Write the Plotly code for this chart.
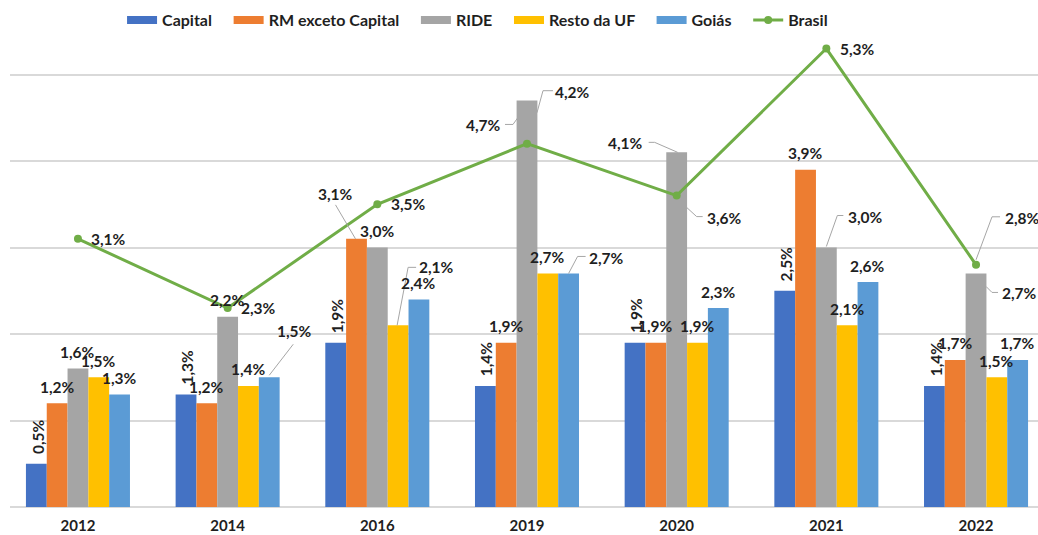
import plotly.graph_objects as go

# ---------------- data ----------------
years = ['2012', '2014', '2016', '2019', '2020', '2021', '2022']
capital = [0.5, 1.3, 1.9, 1.4, 1.9, 2.5, 1.4]
rm_exceto_capital = [1.2, 1.2, 3.1, 1.9, 1.9, 3.9, 1.7]
ride = [1.6, 2.2, 3.0, 4.7, 4.1, 3.0, 2.7]
resto_da_uf = [1.5, 1.4, 2.1, 2.7, 1.9, 2.1, 1.5]
goias = [1.3, 1.5, 2.4, 2.7, 2.3, 2.6, 1.7]
brasil = [3.1, 2.3, 3.5, 4.2, 3.6, 5.3, 2.8]

series_names = ['Capital', 'RM exceto Capital', 'RIDE', 'Resto da UF', 'Goiás']
series_vals = [capital, rm_exceto_capital, ride, resto_da_uf, goias]
line_name = 'Brasil'

# ---------------- style ----------------
colors = ['#4472C4', '#ED7D31', '#A5A5A5', '#FFC000', '#5B9BD5']
line_color = '#70AD47'
FONT = 'Lato, "Open Sans", Arial, sans-serif'
TXT = '#1f1f1f'
PAD = '\u00a0\u00a0\u00a0'   # extra spacing between legend entries

W, H = 1038, 535
ML, MR, MT, MB = 10, 0, 24, 28
XR = [-0.454, 6.414]
PX_PER_PCT = 86.5
YR = [0, (H - MT - MB) / PX_PER_PCT]
px_x = (W - ML - MR) / (XR[1] - XR[0])
px_y = (H - MT - MB) / (YR[1] - YR[0])

BARGAP = 0.305
bw = (1 - BARGAP) / 5

xs = list(range(len(years)))

fig = go.Figure()
for name, vals, c in zip(series_names, series_vals, colors):
    fig.add_trace(go.Bar(x=xs, y=vals, name=name, marker=dict(color=c, line=dict(width=0)),
                         showlegend=False))
# legend swatches (wide rectangles like the original)
for name, c in zip(series_names, colors):
    fig.add_trace(go.Scatter(x=[None], y=[None], mode='lines', name=name + PAD,
                             line=dict(color=c, width=8)))
fig.add_trace(go.Scatter(x=xs, y=brasil, mode='lines+markers', name=line_name,
                         line=dict(color=line_color, width=3),
                         marker=dict(color=line_color, size=8)))


def fmt(v):
    return f"{v:.1f}%".replace('.', ',')


# label placement (pixel offsets from anchor: bar top centre / line marker)
custom = {
    (4, 1): dict(label=(25, -46), path=[(0, -2), (24, -33)]),
    (1, 2): dict(label=(-21, -45), path=[(-21, -34), (-1, 0)]),
    (3, 2): dict(label=(38, -58), path=[(-1, 0), (10, -58), (18, -58)]),
    (2, 3): dict(label=(-43, 25), path=[(-22, 24), (-14, 24), (-9, 17)]),
    (5, 3): dict(label=(46, -52), path=[(10, -31), (16, -53), (26, -53)]),
    (4, 3): dict(label=(38, -15), path=[(0, 0), (9, -17), (17, -17)]),
    (2, 4): dict(label=(-51, -9), path=[(-28, -10), (-22, -10), (1, 0)]),
    (5, 4): dict(label=(48, 22), path=[(8, 10), (20, 21), (26, 21)]),
    (2, 5): dict(label=(39, -31), path=[(0, -1), (11, -32), (17, -32)]),
    (2, 6): dict(label=(43, 20), path=[(10, 13), (16, 19), (22, 19)]),
    (5, 6): dict(label=(46, -47), path=[(0, -5), (16, -48), (24, -48)]),
}

annotations = []
shapes = []
all_series = series_vals + [brasil]
for s, vals in enumerate(all_series):
    for j, v in enumerate(vals):
        ax = xs[j] + (s - 2) * bw if s < 5 else xs[j]
        ay = v
        angle = 0
        if s == 0:
            dx, dy = 1, -27
            angle = -90
        elif s == 5:
            dx, dy = 31, 0
        else:
            dx, dy = 0, -16.5
        if (s, j) in custom:
            dx, dy = custom[(s, j)]['label']
            pts = custom[(s, j)]['path']
            path = ''
            for k, (px, py) in enumerate(pts):
                X = ax + px / px_x
                Y = ay - py / px_y
                path += ('M' if k == 0 else ' L') + f'{X:.5f},{Y:.5f}'
            shapes.append(dict(type='path', xref='x', yref='y', path=path,
                               line=dict(color='#A6A6A6', width=1), layer='above'))
        annotations.append(dict(x=ax, y=ay, xref='x', yref='y', text=fmt(v), showarrow=False,
                                xanchor='center', yanchor='middle', xshift=dx, yshift=-dy,
                                textangle=angle,
                                font=dict(family=FONT, size=15.5, color=TXT, weight='bold')))

fig.update_layout(
    width=W, height=H,
    margin=dict(l=ML, r=MR, t=MT, b=MB, pad=0),
    paper_bgcolor='white', plot_bgcolor='white',
    barmode='group', bargap=BARGAP, bargroupgap=0,
    font=dict(family=FONT, size=15, color=TXT),
    xaxis=dict(range=XR, tickvals=xs, ticktext=years, showgrid=False, zeroline=False,
               showline=False, ticks='', ticklabelstandoff=8,
               tickfont=dict(family=FONT, size=15, color=TXT, weight='bold')),
    yaxis=dict(range=YR, dtick=1, showticklabels=False, showgrid=True,
               gridcolor='#D9D9D9', gridwidth=1.5, zeroline=True, zerolinecolor='#D9D9D9',
               zerolinewidth=1.5, showline=False),
    legend=dict(orientation='h', x=0.109, xanchor='left', y=1.008, yanchor='middle',
                font=dict(family=FONT, size=16, color=TXT, weight='bold'),
                itemwidth=30, bgcolor='rgba(0,0,0,0)', tracegroupgap=0),
    annotations=annotations,
    shapes=shapes,
    showlegend=True,
)

fig.write_html('out.html',
               config={'displayModeBar': False},
               post_script="document.body.style.margin='0';document.body.style.padding='0';")
